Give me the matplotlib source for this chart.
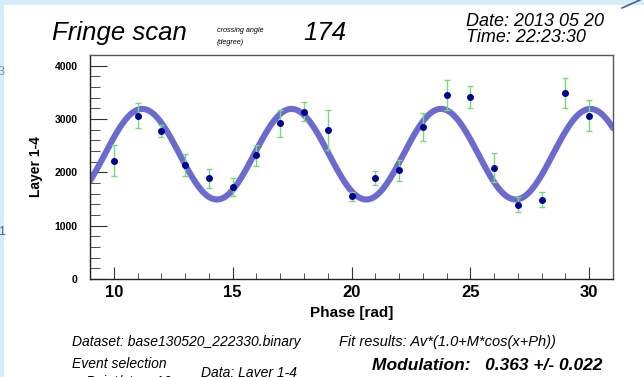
#!/usr/bin/env python3
import numpy as np
import matplotlib.pyplot as plt
from matplotlib.patches import Rectangle
from matplotlib.ticker import MultipleLocator

# measured points (phase in rad, counts, error)
phase = [10, 11, 12, 13, 14, 15, 16, 17, 18, 19, 20,
         21, 22, 23, 24, 25, 26, 27, 28, 29, 30]
counts = [2220, 3065, 2770, 2130, 1885, 1720, 2320, 2920, 3140, 2790, 1550,
          1900, 2040, 2850, 3450, 3415, 2090, 1395, 1485, 3490, 3060]
errors = [290, 235, 110, 205, 180, 170, 200, 255, 175, 370, 90,
          130, 200, 260, 280, 200, 280, 145, 137, 280, 290]

# fit results Av*(1.0+M*cos(x+Ph))
fit_av = 2340.0
fit_m = 0.363
fit_ph = 1.37

plt.rcParams['font.family'] = ['Liberation Sans', 'DejaVu Sans']

fig = plt.figure(figsize=(6.44, 3.77), dpi=100)
fig.patch.set_facecolor('#d6ecf8')
# white slide panel behind everything
fig.patches.append(Rectangle((4 / 644, 0), 1, 1 - 5 / 377, transform=fig.transFigure,
                             facecolor='white', edgecolor='none', zorder=-5))
fig.lines.append(plt.Line2D([622 / 644, 640 / 644], [1 - 8 / 377, 1.0], transform=fig.transFigure,
                            color='#4a5aa8', lw=1.2))
fig.text(-2 / 644, 1 - 72 / 377, '3', color='#8090c0', fontsize=9, va='center')
fig.text(-2 / 644, 1 - 232 / 377, '1', color='#5060a0', fontsize=9, va='center')

ax = fig.add_axes([90 / 644, 1 - 279 / 377, 523 / 644, 224 / 377])

xf = np.linspace(9, 31, 600)
ax.plot(xf, fit_av * (1.0 + fit_m * np.cos(xf + fit_ph)), color='#6a6acf', lw=4.4,
        solid_capstyle='round', zorder=2)
ax.errorbar(phase, counts, yerr=errors, fmt='none', ecolor='#7ad87a', elinewidth=1.0,
            capsize=2.5, capthick=1.0, zorder=3)
ax.plot(phase, counts, 'o', color='#000090', ms=4, zorder=4)

ax.set_xlim(9, 31)
ax.set_ylim(0, 4200)
ax.xaxis.set_major_locator(MultipleLocator(5))
ax.xaxis.set_minor_locator(MultipleLocator(1))
ax.yaxis.set_major_locator(MultipleLocator(1000))
ax.yaxis.set_minor_locator(MultipleLocator(200))
ax.tick_params(which='both', direction='in', top=False, right=False, color='#333333')
ax.tick_params(axis='y', which='major', length=12, labelsize=7.5, pad=9)
ax.tick_params(axis='y', which='minor', length=7)
ax.tick_params(axis='x', which='major', length=9, labelsize=12, pad=4)
ax.tick_params(axis='x', which='minor', length=4.5)
for lab in ax.get_xticklabels() + ax.get_yticklabels():
    lab.set_fontweight('bold')
for sp in ax.spines.values():
    sp.set_color('#555555')
    sp.set_linewidth(1.0)
ax.spines['left'].set_color('#222222')
ax.spines['bottom'].set_color('#222222')

ax.set_xlabel('Phase [rad]', fontsize=11, fontweight='bold', labelpad=5)
ax.set_ylabel('Layer 1-4', fontsize=10, fontweight='bold', labelpad=8)

# header texts
fig.text(52 / 644, 1 - 33 / 377, 'Fringe scan', fontsize=18.5, style='italic', va='center')
fig.text(217 / 644, 1 - 30 / 377, 'crossing angle', fontsize=5.2, style='italic', va='center')
fig.text(217 / 644, 1 - 43 / 377, '(degree)', fontsize=5.2, style='italic', va='center')
fig.text(303 / 644, 1 - 33 / 377, '174', fontsize=18.5, style='italic', va='center')
fig.text(466 / 644, 1 - 21 / 377, 'Date: 2013 05 20', fontsize=13, style='italic', va='center')
fig.text(466 / 644, 1 - 37 / 377, 'Time: 22:23:30', fontsize=13, style='italic', va='center')

# footer texts
fig.text(72 / 644, 1 - 342 / 377, 'Dataset: base130520_222330.binary', fontsize=10,
         style='italic', va='center')
fig.text(339 / 644, 1 - 342 / 377, 'Fit results: Av*(1.0+M*cos(x+Ph))', fontsize=10.5,
         style='italic', va='center')
fig.text(72 / 644, 1 - 364 / 377, 'Event selection', fontsize=10, style='italic', va='center')
fig.text(201 / 644, 1 - 373 / 377, 'Data: Layer 1-4', fontsize=10, style='italic', va='center')
fig.text(86 / 644, 1 - 382 / 377, 'Point/step: 10', fontsize=10, style='italic', va='center')
fig.text(372 / 644, 1 - 366 / 377, 'Modulation:   0.363 +/- 0.022', fontsize=12.5,
         style='italic', fontweight='bold', va='center')

fig.savefig('out.png', dpi=100, facecolor=fig.get_facecolor())
